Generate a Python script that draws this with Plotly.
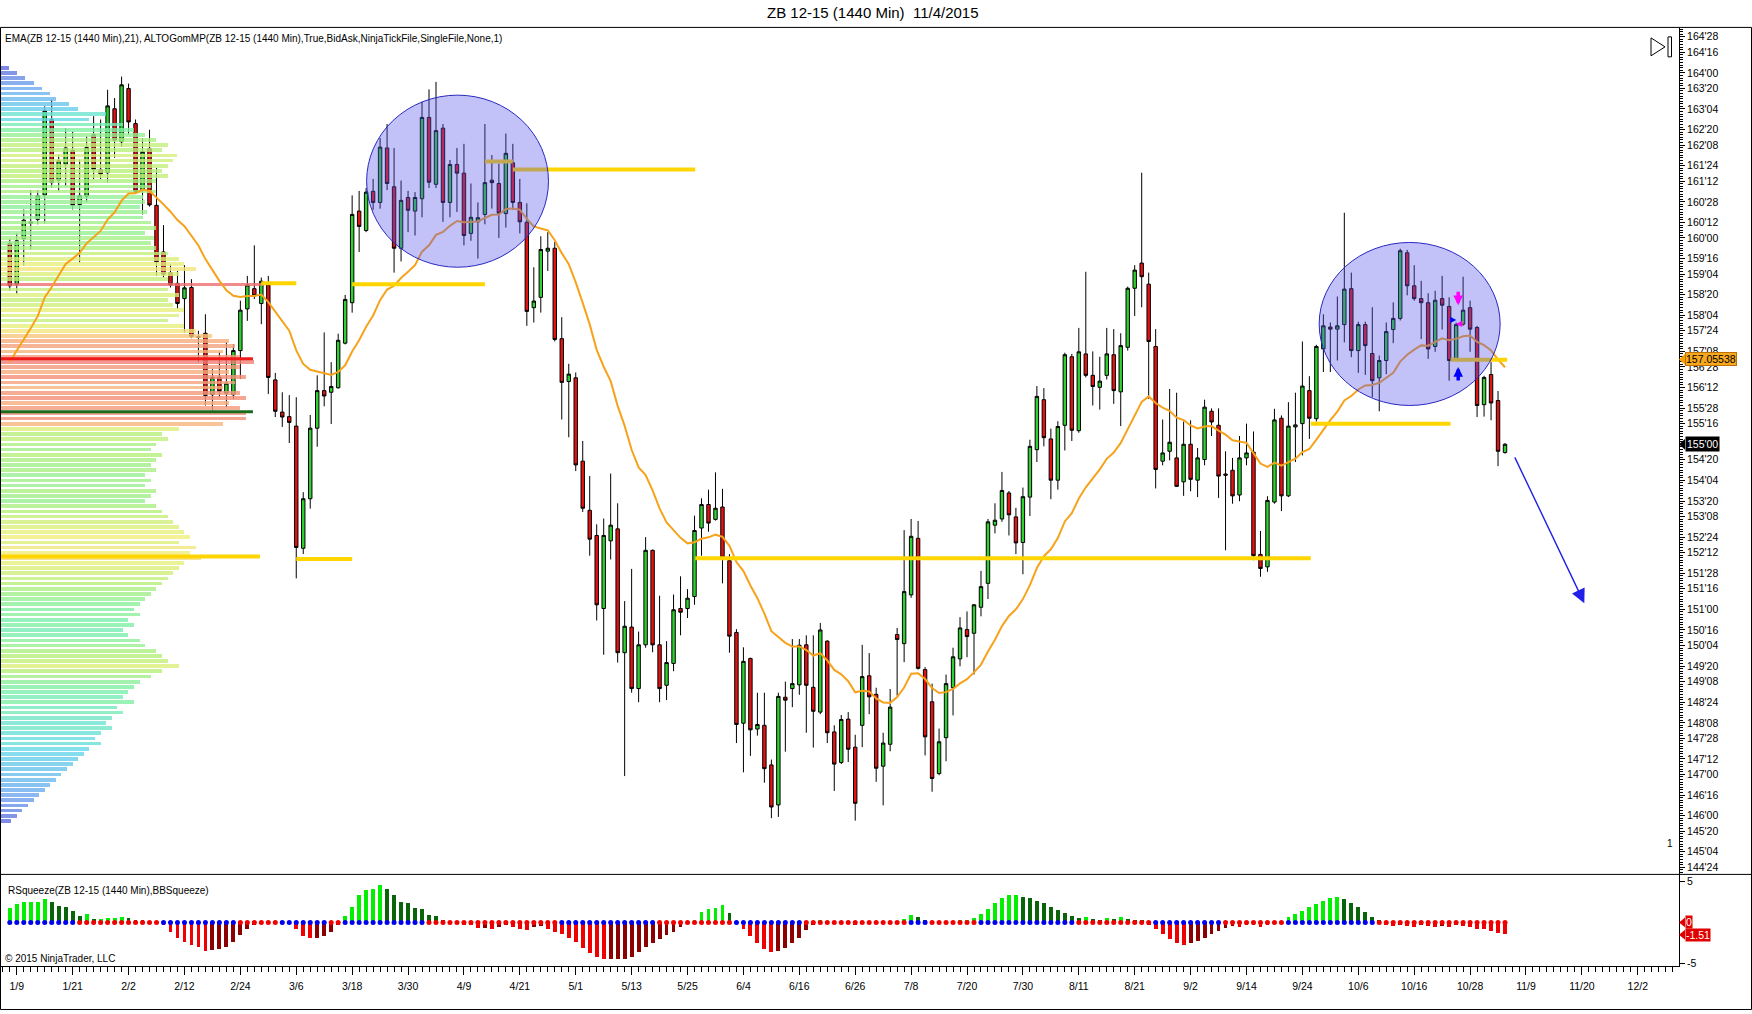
import plotly.graph_objects as go

W, H = 1752, 1014

# ---------------------------------------------------------------- data
# bar index: -1 = 1/8/2015 ... 0 = 1/9/2015 ... 213 = 11/4/2015 (daily bars)
bar_index = list(range(-1, 214))

opens = [
    159.87, 158.88, 159.98, 160.35, 160.45, 161.04, 162.87, 161.40, 161.79, 162.12,
    160.81, 161.01, 162.50, 161.66, 161.58, 163.13, 162.33, 163.62, 162.77, 161.16,
    162.17, 160.79, 159.66, 159.16, 158.90, 158.53, 158.80, 157.61, 157.69, 156.20,
    156.62, 156.24, 156.20, 157.27, 158.28, 158.77, 158.41, 158.86, 156.56, 155.78,
    155.67, 155.44, 152.48, 153.68, 155.39, 156.30, 156.26, 156.37, 157.45, 158.43,
    160.65, 160.18, 161.13, 160.86, 162.18, 161.24, 159.75, 160.98, 160.65, 160.95,
    162.92, 161.30, 162.66, 160.86, 161.78, 161.57, 160.11, 160.39, 160.57, 161.40,
    161.32, 160.59, 161.82, 160.86, 160.38, 158.31, 158.56, 159.68, 159.75, 157.56,
    156.52, 156.61, 154.59, 153.40, 152.79, 151.02, 152.66, 152.95, 149.95, 150.57,
    149.08, 150.14, 152.43, 150.14, 149.16, 149.69, 151.02, 151.02, 151.31, 152.97,
    153.54, 153.18, 153.48, 152.18, 150.44, 148.24, 149.81, 148.10, 148.19, 147.23,
    146.26, 148.87, 149.08, 149.17, 150.14, 149.11, 148.51, 150.23, 148.03, 147.29,
    148.34, 147.66, 148.19, 149.39, 148.94, 147.20, 147.73, 150.39, 150.17, 151.35,
    152.72, 149.54, 148.76, 147.02, 147.89, 149.10, 149.80, 150.51, 150.42, 151.05,
    151.63, 153.04, 153.19, 153.82, 153.24, 152.62, 153.72, 154.87, 156.08, 155.13,
    154.13, 155.46, 157.12, 155.33, 157.19, 156.67, 156.38, 156.67, 157.17, 156.27,
    157.35, 158.78, 159.39, 158.88, 157.37, 154.59, 154.83, 154.67, 154.09, 155.00,
    154.13, 154.63, 155.80, 155.46, 154.28, 154.37, 153.77, 154.67, 154.81, 152.33,
    152.03, 153.60, 155.63, 153.75, 155.42, 155.50, 156.30, 155.62, 157.31, 157.84,
    157.79, 157.90, 158.77, 157.27, 157.90, 157.20, 156.61, 157.03, 157.78, 158.05,
    159.64, 158.84, 158.53, 158.43, 157.37, 158.53, 158.34, 157.07, 157.91, 158.31,
    157.83, 155.96, 156.69, 156.06, 154.80]
highs = [
    159.98, 160.11, 160.69, 161.16, 161.16, 163.19, 163.35, 162.02, 162.66, 162.58,
    161.90, 162.46, 162.95, 162.87, 163.59, 163.39, 163.91, 163.74, 162.87, 162.42,
    162.62, 161.70, 160.31, 159.36, 159.20, 159.34, 159.00, 157.75, 158.15, 156.82,
    157.24, 157.47, 157.43, 158.48, 159.08, 159.82, 159.04, 159.08, 156.73, 156.26,
    156.19, 156.14, 153.84, 155.71, 156.67, 157.71, 156.99, 157.68, 158.62, 161.03,
    161.14, 161.21, 161.43, 162.42, 162.76, 162.18, 161.39, 161.14, 161.11, 163.30,
    163.60, 163.78, 162.76, 161.89, 162.18, 162.28, 161.32, 160.86, 162.76, 162.01,
    161.80, 162.53, 162.28, 161.43, 160.84, 159.29, 160.04, 160.14, 159.90, 158.08,
    156.95, 156.74, 155.08, 154.23, 153.06, 153.20, 154.29, 153.57, 151.20, 151.98,
    150.46, 152.75, 152.45, 151.33, 150.23, 151.36, 151.80, 151.49, 153.27, 153.69,
    153.90, 154.32, 153.92, 152.34, 150.52, 150.08, 149.83, 148.98, 148.98, 147.36,
    148.98, 149.25, 150.28, 150.28, 150.37, 150.37, 150.67, 150.25, 148.19, 148.44,
    148.51, 147.96, 150.14, 149.94, 149.10, 148.01, 149.07, 150.55, 152.92, 153.19,
    153.14, 149.60, 149.20, 148.11, 149.42, 150.07, 150.81, 150.95, 151.13, 151.93,
    153.19, 153.57, 154.33, 153.87, 153.46, 153.95, 155.11, 156.41, 156.36, 155.38,
    155.56, 157.22, 157.19, 157.82, 159.18, 157.25, 157.12, 157.82, 157.79, 157.69,
    158.82, 159.34, 161.58, 159.16, 157.79, 155.60, 156.34, 156.25, 155.55, 155.58,
    154.91, 156.08, 155.87, 155.87, 154.83, 154.67, 155.20, 155.50, 155.31, 152.90,
    153.74, 155.86, 155.70, 156.02, 156.25, 157.49, 156.65, 157.41, 158.15, 157.95,
    158.58, 160.61, 159.16, 157.97, 157.97, 158.32, 157.15, 157.95, 158.44, 159.74,
    159.71, 159.34, 158.96, 158.66, 158.72, 159.08, 158.56, 157.95, 159.06, 158.48,
    157.87, 156.66, 156.99, 156.29, 155.03]
lows = [
    158.72, 158.64, 159.32, 159.72, 160.33, 160.35, 161.21, 161.13, 161.26, 160.69,
    159.40, 160.87, 161.42, 161.42, 161.34, 161.94, 162.21, 162.50, 161.09, 160.57,
    160.76, 159.08, 159.04, 158.80, 158.28, 157.71, 157.57, 156.99, 155.94, 155.82,
    156.14, 155.90, 156.10, 156.58, 157.99, 158.52, 157.91, 156.22, 155.66, 155.42,
    155.03, 151.75, 152.34, 153.44, 154.94, 155.92, 155.49, 156.35, 157.42, 158.19,
    159.66, 160.14, 160.68, 160.71, 161.16, 159.16, 159.43, 160.14, 160.06, 160.50,
    161.21, 161.21, 160.39, 160.50, 160.63, 159.82, 159.93, 159.50, 160.33, 160.71,
    160.00, 160.25, 160.68, 160.11, 157.87, 157.95, 158.19, 159.20, 157.49, 155.60,
    155.17, 154.35, 153.36, 152.30, 150.73, 149.90, 152.21, 149.71, 146.96, 148.98,
    148.75, 150.07, 149.96, 148.75, 148.80, 149.50, 150.37, 150.79, 151.11, 152.30,
    152.88, 153.15, 151.63, 149.95, 147.76, 147.05, 147.45, 147.94, 146.80, 145.94,
    145.97, 147.55, 148.63, 148.93, 148.01, 147.65, 148.46, 147.76, 146.60, 147.25,
    147.30, 145.88, 147.66, 148.46, 146.82, 146.25, 147.56, 148.91, 149.72, 151.28,
    149.54, 147.46, 146.58, 146.98, 147.32, 148.43, 149.62, 149.84, 149.42, 150.83,
    151.25, 152.84, 153.12, 152.79, 152.34, 151.85, 153.26, 154.57, 154.95, 153.67,
    153.90, 154.85, 155.08, 155.28, 156.62, 155.94, 155.84, 156.57, 155.98, 155.44,
    157.27, 158.11, 158.32, 156.10, 153.93, 154.49, 154.61, 153.97, 153.75, 153.86,
    153.72, 154.49, 155.20, 153.70, 152.43, 153.56, 153.62, 154.49, 152.19, 151.79,
    151.91, 153.56, 153.38, 153.72, 154.57, 154.73, 155.13, 155.55, 156.75, 156.75,
    157.03, 157.47, 157.11, 156.73, 156.68, 156.14, 155.80, 156.70, 157.45, 158.00,
    158.61, 158.48, 157.55, 157.07, 157.24, 157.78, 156.54, 157.05, 157.87, 157.24,
    155.66, 155.67, 155.58, 154.47, 154.77]
closes = [
    158.84, 159.93, 160.43, 160.39, 161.03, 163.08, 161.34, 161.87, 162.18, 160.79,
    161.03, 162.19, 161.66, 161.55, 163.20, 162.37, 163.71, 162.81, 161.13, 162.09,
    160.80, 159.42, 159.12, 158.86, 158.41, 158.79, 157.61, 157.59, 156.18, 156.62,
    156.28, 156.48, 157.27, 158.25, 158.86, 158.60, 158.95, 156.62, 155.80, 155.66,
    155.53, 152.50, 153.68, 155.39, 156.30, 156.17, 156.40, 157.52, 158.51, 160.57,
    160.28, 161.11, 160.86, 162.20, 161.32, 159.75, 160.91, 160.67, 160.98, 162.92,
    161.35, 162.60, 160.86, 161.78, 161.57, 160.06, 160.50, 160.49, 161.34, 161.34,
    160.60, 162.05, 160.86, 160.39, 158.22, 158.47, 159.72, 159.75, 157.54, 156.50,
    156.70, 154.50, 153.45, 152.70, 151.11, 152.79, 153.04, 149.95, 150.59, 149.08,
    150.14, 152.43, 150.14, 149.08, 149.71, 150.99, 150.93, 151.27, 152.91, 153.54,
    153.09, 153.45, 152.25, 150.35, 148.21, 149.74, 148.08, 148.21, 147.14, 146.21,
    148.89, 148.80, 149.20, 150.13, 149.16, 148.53, 150.50, 148.01, 147.25, 148.33,
    147.61, 146.30, 149.37, 148.88, 147.15, 147.76, 148.63, 150.27, 151.43, 152.77,
    149.57, 147.91, 146.90, 147.79, 149.20, 149.85, 150.55, 150.34, 151.11, 151.55,
    153.12, 153.16, 153.88, 153.29, 152.61, 153.73, 154.95, 156.16, 155.16, 154.13,
    155.43, 157.17, 155.34, 157.24, 156.67, 156.40, 156.53, 157.19, 156.30, 157.39,
    158.78, 159.22, 159.06, 157.49, 154.39, 154.79, 155.05, 153.98, 155.00, 154.15,
    154.67, 155.90, 155.54, 154.23, 154.25, 153.75, 154.67, 154.79, 152.30, 151.99,
    153.64, 155.59, 153.75, 155.44, 155.47, 156.41, 155.63, 157.37, 157.87, 157.79,
    157.87, 158.76, 157.27, 157.90, 157.39, 156.54, 157.03, 157.73, 158.05, 159.69,
    158.84, 158.53, 158.43, 157.31, 158.49, 158.37, 157.03, 157.90, 158.25, 157.79,
    155.94, 156.62, 156.00, 154.83, 155.00]

ema_start = 157.00      # EMA(21) value at the first visible bar
ema_period = 21

date_labels = ["1/9", "1/21", "2/2", "2/12", "2/24", "3/6", "3/18", "3/30", "4/9", "4/21",
               "5/1", "5/13", "5/25", "6/4", "6/16", "6/26", "7/8", "7/20", "7/30", "8/11",
               "8/21", "9/2", "9/14", "9/24", "10/6", "10/16", "10/28", "11/9", "11/20", "12/2"]
date_label_index = [0, 8, 16, 24, 32, 40, 48, 56, 64, 72, 80, 88, 96, 104, 112, 120, 128,
                    136, 144, 152, 160, 168, 176, 184, 192, 200, 208, 216, 224, 232]

price_labels = ["164'28", "164'16", "164'00", "163'20", "163'04", "162'20", "162'08", "161'24",
                "161'12", "160'28", "160'12", "160'00", "159'16", "159'04", "158'20", "158'04",
                "157'24", "157'08", "156'28", "156'12", "155'28", "155'16", "155'00", "154'20",
                "154'04", "153'20", "153'08", "152'24", "152'12", "151'28", "151'16", "151'00",
                "150'16", "150'04", "149'20", "149'08", "148'24", "148'08", "147'28", "147'12",
                "147'00", "146'16", "146'00", "145'20", "145'04", "144'24"]

# RSqueeze momentum histogram, one value per bar
squeeze = [
    1.7, 2.2, 2.45, 2.45, 2.5, 2.8, 2.45, 2.0, 1.9, 1.35, 0.8, 0.95, 0.4, 0.4, 0.45, 0.55,
    0.65, 0.45, 0.3, 0.2, 0.05,
    -0.1, -0.4, -1.2, -2.0, -2.4, -2.8, -3.1, -3.5, -3.4, -3.3, -3.1, -2.4, -1.6, -0.9,
    -0.3, -0.1, 0.05, 0.1, 0.05, -0.2,
    -0.9, -1.7, -2.0, -1.9, -1.7, -1.2, -0.4,
    0.8, 1.8, 3.3, 3.9, 4.1, 4.6, 4.1, 3.3, 2.5, 2.3, 1.7, 1.6, 0.9, 0.7,
    0.3, 0.1, -0.1, -0.3, -0.4, -0.7, -0.7, -0.9, -0.6, -0.4, -0.6, -0.9, -1.0, -0.6, -0.5, -0.9,
    -1.2, -1.5, -1.9, -2.5, -3.2, -3.8, -4.3, -4.6, -4.6, -4.6, -4.6, -4.3, -3.7, -3.1, -2.6,
    -2.1, -1.6, -1.2, -0.6, -0.2,
    0.3, 1.2, 1.55, 1.7, 2.1, 1.1,
    -0.2, -0.8, -1.7, -2.6, -3.3, -3.7, -3.6, -3.2, -2.6, -1.9, -1.0, -0.3,
    0.2, -0.1, -0.2, -0.1, -0.2, -0.3, -0.2, -0.1, -0.2, -0.1, -0.2, -0.1,
    0.4, 0.9, 0.6, 0.3, -0.1, -0.2, -0.1, 0.1, 0.2, 0.3, 0.5,
    1.0, 1.6, 2.3, 3.0, 3.3, 3.3, 3.1, 2.9, 2.6, 2.3, 1.9, 1.5, 1.1, 0.7,
    0.5, 0.6, 0.4, 0.3, 0.5, 0.4, 0.6, 0.4, 0.3, 0.2, -0.3, -0.8,
    -1.5, -2.1, -2.6, -2.8, -2.6, -2.3, -1.9, -1.5, -1.1, -0.7,
    -0.5, -0.6, -0.3, -0.4, -0.6, -0.3, -0.2, 0.1,
    0.6, 1.0, 1.4, 1.8, 2.2, 2.6, 2.9, 3.1, 2.8, 2.4, 1.9, 1.2, 0.6,
    0.2, -0.3, -0.5, -0.4, -0.5, -0.6, -0.4, -0.5, -0.6, -0.5, -0.6, -0.4, -0.5, -0.6, -0.8,
    -0.9, -1.1, -1.3, -1.51]
# squeeze state runs: (state, number of bars)
squeeze_runs = [("off", 10), ("on", 12), ("off", 11), ("on", 6), ("off", 7), ("on", 2),
                ("off", 12), ("on", 19), ("off", 14), ("on", 11), ("off", 10), ("on", 15),
                ("off", 3), ("on", 7), ("off", 14), ("on", 11), ("off", 10), ("on", 9),
                ("off", 13), ("on", 19)]

# market profile (ALTOGomMP) volume per price row, from 164.125 down in 1/8 steps
profile_top = 164.125
profile_step = 0.125
profile_volume = [
    8, 15, 22, 30, 38, 45, 50, 62, 70, 95,
    80, 110, 120, 130, 140, 150, 145, 158, 155, 150,
    145, 150, 140, 135, 140, 128, 130, 125, 132, 128,
    135, 140, 130, 138, 135, 140, 150, 160, 165, 175,
    160, 150, 235, 150, 160, 150, 155, 165, 160, 150,
    165, 175, 190, 205, 210, 200, 215, 227, 215, 205,
    220, 210, 200, 215, 220, 205, 215, 220, 220, 200,
    160, 145, 150, 140, 135, 145, 140, 135, 140, 130,
    135, 130, 140, 135, 130, 140, 145, 150, 155, 160,
    165, 170, 160, 175, 170, 180, 165, 160, 155, 150,
    145, 140, 135, 130, 125, 120, 125, 115, 120, 110,
    115, 125, 130, 140, 145, 150, 160, 145, 135, 125,
    120, 115, 110, 120, 105, 110, 100, 95, 100, 90,
    85, 90, 80, 75, 70, 65, 60, 55, 50, 45,
    40, 35, 30, 25, 20, 15, 10]

# drawn horizontal levels: (start bar, end bar, price, kind)
level_lines = [
    (-2.4, 33.8, 157.07, "poc"),
    (-2.4, 33.8, 155.79, "val"),
    (-2.4, 34.8, 152.28, "yellow"),
    (35.0, 40.0, 158.90, "yellow"),
    (40.0, 48.0, 152.22, "yellow"),
    (48.0, 67.0, 158.88, "yellow"),
    (67.0, 71.0, 161.85, "yellow"),
    (71.0, 97.1, 161.66, "yellow"),
    (97.1, 185.2, 152.24, "yellow"),
    (185.2, 205.2, 155.50, "yellow"),
    (205.2, 213.3, 157.05, "yellow"),
]
# highlighted zones (ellipses): (bar from, bar to, price low, price high)
zones = [(50.07, 76.1, 159.29, 163.46), (186.4, 212.3, 155.94, 159.89)]
# projection arrow: from (bar, price) to (bar, price)
projection = ((214.3, 154.72), (224.35, 151.15))
signal_bar = 206
last_price_text = "155'00"
level_price_text = "157.05538"
level_price = 157.05538
squeeze_last_text = "-1.51"

assert len(opens) == len(highs) == len(lows) == len(closes) == len(bar_index) == len(squeeze)
assert sum(n for _, n in squeeze_runs) == len(bar_index)

# ---------------------------------------------------------------- derived
alpha = 2.0 / (ema_period + 1)
ema = [ema_start]
for c in closes[1:]:
    ema.append(ema[-1] + alpha * (c - ema[-1]))

price_vals = [int(s.split("'")[0]) + int(s.split("'")[1]) / 32 for s in price_labels]

hist_colors = []
prev = None
for v in squeeze:
    rising = prev is None or v >= prev
    if v >= 0:
        hist_colors.append("#00F000" if rising else "#0A640A")
    else:
        hist_colors.append("#8B0000" if rising else "#F00000")
    prev = v
dot_colors = []
for state, n in squeeze_runs:
    dot_colors += (["#F00000"] if state == "on" else ["#0000F0"]) * n

profile_prices = [profile_top - k * profile_step for k in range(len(profile_volume))]

# ---------------------------------------------------------------- geometry
PLOT_R = 1679
UP_TOP, UP_BOT, LO_BOT = 28, 877, 969
X0, X1 = -2.40, 237.9
Y0, Y1 = 144.577, 165.089
PX_PER_BAR = 6.987
PROFILE_PX = 1.1173 / PX_PER_BAR        # profile units -> bars


def xp(px):
    return px / W


def yp(py):
    return 1 - py / H


FONT = "Liberation Sans, Arial, sans-serif"

fig = go.Figure()

fig.add_trace(go.Candlestick(
    x=bar_index, open=opens, high=highs, low=lows, close=closes,
    xaxis="x", yaxis="y",
    increasing=dict(fillcolor="#2FD12F", line=dict(color="#000000", width=1)),
    decreasing=dict(fillcolor="#E51212", line=dict(color="#000000", width=1)),
    hoverinfo="skip", showlegend=False))

fig.add_trace(go.Bar(
    x=bar_index, y=squeeze, xaxis="x2", yaxis="y2", width=0.55,
    marker=dict(color=hist_colors, line=dict(width=0)), hoverinfo="skip", showlegend=False))
fig.add_trace(go.Scatter(
    x=bar_index, y=[0] * len(bar_index), xaxis="x2", yaxis="y2", mode="markers",
    marker=dict(color=dot_colors, size=5, line=dict(width=0)), hoverinfo="skip",
    showlegend=False))

fig.add_trace(go.Bar(
    y=profile_prices, x=[v * PROFILE_PX for v in profile_volume], base=X0,
    orientation="h", width=profile_step * 0.72, xaxis="x3", yaxis="y",
    marker=dict(color=profile_volume, cmin=0, cmax=235, line=dict(width=0),
                colorscale=[[0, "#5a5ad8"], [0.15, "#6fa8f0"], [0.35, "#66dde8"],
                            [0.5, "#7ef0a8"], [0.62, "#b8f07a"], [0.72, "#f2f07c"],
                            [0.82, "#f8c37c"], [0.9, "#f6a07e"], [1, "#f07070"]]),
    opacity=0.8, hoverinfo="skip", showlegend=False))

fig.add_trace(go.Scatter(
    x=bar_index, y=ema, xaxis="x3", yaxis="y", mode="lines",
    line=dict(color="#F7A21B", width=2), hoverinfo="skip", showlegend=False))

line_style = {"poc": ("#F01818", 3), "val": ("#1C6B1C", 3), "yellow": ("#FFD500", 4)}
for x_a, x_b, lvl, kind in level_lines:
    col, wid = line_style[kind]
    fig.add_trace(go.Scatter(
        x=[x_a, x_b], y=[lvl, lvl], xaxis="x3", yaxis="y", mode="lines",
        line=dict(color=col, width=wid), hoverinfo="skip", showlegend=False))

shapes = []
for xa, xb, ya, yb in zones:
    shapes.append(dict(type="circle", xref="x", yref="y", x0=xa, x1=xb, y0=ya, y1=yb,
                       fillcolor="rgba(85,85,235,0.36)", line=dict(color="#2828C0", width=1),
                       layer="above"))
# frame
shapes.append(dict(type="rect", xref="paper", yref="paper", x0=xp(0.5), x1=xp(1751.5),
                   y0=yp(1012.5), y1=yp(27.5), line=dict(color="black", width=1)))
shapes.append(dict(type="line", xref="paper", yref="paper", x0=0, x1=1, y0=yp(UP_BOT),
                   y1=yp(UP_BOT), line=dict(color="black", width=1)))
# "go to end" icon
shapes.append(dict(type="path", xref="paper", yref="paper",
                   path=f"M{xp(1651)},{yp(38)} L{xp(1651)},{yp(56)} L{xp(1665)},{yp(47)} Z",
                   line=dict(color="black", width=1)))
shapes.append(dict(type="rect", xref="paper", yref="paper", x0=xp(1668), x1=xp(1671.5),
                   y0=yp(57), y1=yp(37), line=dict(color="black", width=1)))
# label notches
for yref, val, col, half in [("y", closes[-1], "black", 0.13), ("y", level_price, "#F5A000", 0.13),
                             ("y2", 0, "#E00000", 0.6), ("y2", squeeze[-1], "#E00000", 0.6)]:
    shapes.append(dict(type="path", xref="paper", yref=yref,
                       path=f"M{xp(1679)},{val} L{xp(1685)},{val + half} L{xp(1685)},{val - half} Z",
                       fillcolor=col, line=dict(color=col, width=0)))

ann = []
ann.append(dict(x=xp(873), y=yp(13), xref="paper", yref="paper", showarrow=False,
                text="ZB 12-15 (1440 Min)\u00a0\u00a011/4/2015", xanchor="center",
                yanchor="middle", font=dict(size=15, color="black", family=FONT)))
ann.append(dict(x=xp(3), y=yp(39), xref="paper", yref="paper", showarrow=False,
                text="EMA(ZB 12-15 (1440 Min),21), ALTOGomMP(ZB 12-15 (1440 Min),True,BidAsk,"
                     "NinjaTickFile,SingleFile,None,1)",
                xanchor="left", yanchor="middle", font=dict(size=10, color="black", family=FONT)))
ann.append(dict(x=xp(6), y=yp(893), xref="paper", yref="paper", showarrow=False,
                text="RSqueeze(ZB 12-15 (1440 Min),BBSqueeze)", xanchor="left",
                yanchor="middle", font=dict(size=10, color="black", family=FONT)))
ann.append(dict(x=xp(3), y=yp(961), xref="paper", yref="paper", showarrow=False,
                text="\u00a9 2015 NinjaTrader, LLC", xanchor="left", yanchor="middle",
                font=dict(size=10, color="black", family=FONT)))
ann.append(dict(x=xp(1670), y=yp(846), xref="paper", yref="paper", showarrow=False,
                text="1", xanchor="center", yanchor="middle",
                font=dict(size=10, color="black", family=FONT)))
# right-axis value boxes
ann.append(dict(x=xp(1685), y=level_price, xref="paper", yref="y", showarrow=False,
                text=level_price_text, xanchor="left", yanchor="middle", bgcolor="#F8A81C",
                bordercolor="#C07000", borderwidth=1, borderpad=0,
                font=dict(size=10.5, color="black", family=FONT)))
ann.append(dict(x=xp(1685), y=closes[-1], xref="paper", yref="y", showarrow=False,
                text=last_price_text, xanchor="left", yanchor="middle", bgcolor="black",
                borderpad=1, font=dict(size=10.5, color="white", family=FONT)))
ann.append(dict(x=xp(1685), y=0, xref="paper", yref="y2", showarrow=False,
                text="0", xanchor="left", yanchor="middle", bgcolor="#E00000",
                borderpad=0, font=dict(size=10.5, color="white", family=FONT)))
ann.append(dict(x=xp(1685), y=squeeze[-1], xref="paper", yref="y2", showarrow=False,
                text=squeeze_last_text, xanchor="left", yanchor="middle", bgcolor="#E00000",
                borderpad=0, font=dict(size=10.5, color="white", family=FONT)))
# projection arrow
(p_x0, p_y0), (p_x1, p_y1) = projection
ann.append(dict(x=p_x1, y=p_y1, ax=p_x0, ay=p_y0, xref="x", yref="y", axref="x", ayref="y",
                showarrow=True, arrowhead=2, arrowsize=2.0, arrowwidth=1.4,
                arrowcolor="#2020E8", text=""))
# trade signal arrows
ann.append(dict(x=signal_bar + 0.3, y=158.37, xref="x", yref="y", ax=0, ay=-15, showarrow=True,
                arrowhead=2, arrowsize=0.55, arrowwidth=3.5, arrowcolor="#FF00FF", text=""))
ann.append(dict(x=signal_bar + 0.3, y=156.87, xref="x", yref="y", ax=0, ay=15, showarrow=True,
                arrowhead=2, arrowsize=0.55, arrowwidth=3.5, arrowcolor="#0000FF", text=""))
ann.append(dict(x=signal_bar - 0.4, y=158.02, xref="x", yref="y", showarrow=False, text="\u25B6",
                font=dict(size=8, color="#0000FF")))
ann.append(dict(x=signal_bar + 0.5, y=157.93, xref="x", yref="y", showarrow=False, text="\u25C0",
                font=dict(size=8, color="#FF00FF")))

xdom = [0, xp(PLOT_R)]
axis_common = dict(showgrid=False, zeroline=False)
fig.update_layout(
    width=W, height=H, autosize=False,
    margin=dict(l=0, r=0, t=0, b=0, pad=0),
    paper_bgcolor="white", plot_bgcolor="white",
    font=dict(family=FONT, size=10, color="black"),
    showlegend=False, hovermode=False, bargap=0,
    xaxis=dict(domain=xdom, range=[X0, X1], anchor="y", showticklabels=False, ticks="",
               rangeslider=dict(visible=False), showline=False, **axis_common),
    xaxis2=dict(domain=xdom, range=[X0, X1], anchor="y2", tickmode="array",
                tickvals=date_label_index, ticktext=date_labels, ticks="outside", ticklen=8,
                tickcolor="black", showline=True, linecolor="black", linewidth=1,
                tickfont=dict(size=10.5), ticklabelstandoff=2,
                minor=dict(ticks="outside", dtick=1, tick0=0, ticklen=5, tickcolor="black"),
                **axis_common),
    xaxis3=dict(overlaying="x", anchor="y", range=[X0, X1], visible=False, **axis_common),
    yaxis=dict(domain=[yp(UP_BOT), yp(UP_TOP)], range=[Y0, Y1], anchor="x", side="right",
               tickmode="array", tickvals=price_vals, ticktext=price_labels, ticks="outside",
               ticklen=5, tickcolor="black", showline=True, linecolor="black", linewidth=1,
               tickfont=dict(size=10.5),
               minor=dict(ticks="outside", tick0=0, dtick=0.0625, ticklen=3, tickcolor="black"),
               **axis_common),
    yaxis2=dict(domain=[yp(LO_BOT), yp(UP_BOT)], range=[-5.37, 5.91], anchor="x2", side="right",
                tickmode="array", tickvals=[5, -5], ticktext=["5", "-5"], ticks="outside",
                ticklen=5, tickcolor="black", showline=True, linecolor="black", linewidth=1,
                tickfont=dict(size=10.5), **axis_common),
    shapes=shapes, annotations=ann,
)

fig.write_html("out.html", config={"displayModeBar": False},
               post_script="document.body.style.margin='0px';document.body.style.overflow='hidden';")
